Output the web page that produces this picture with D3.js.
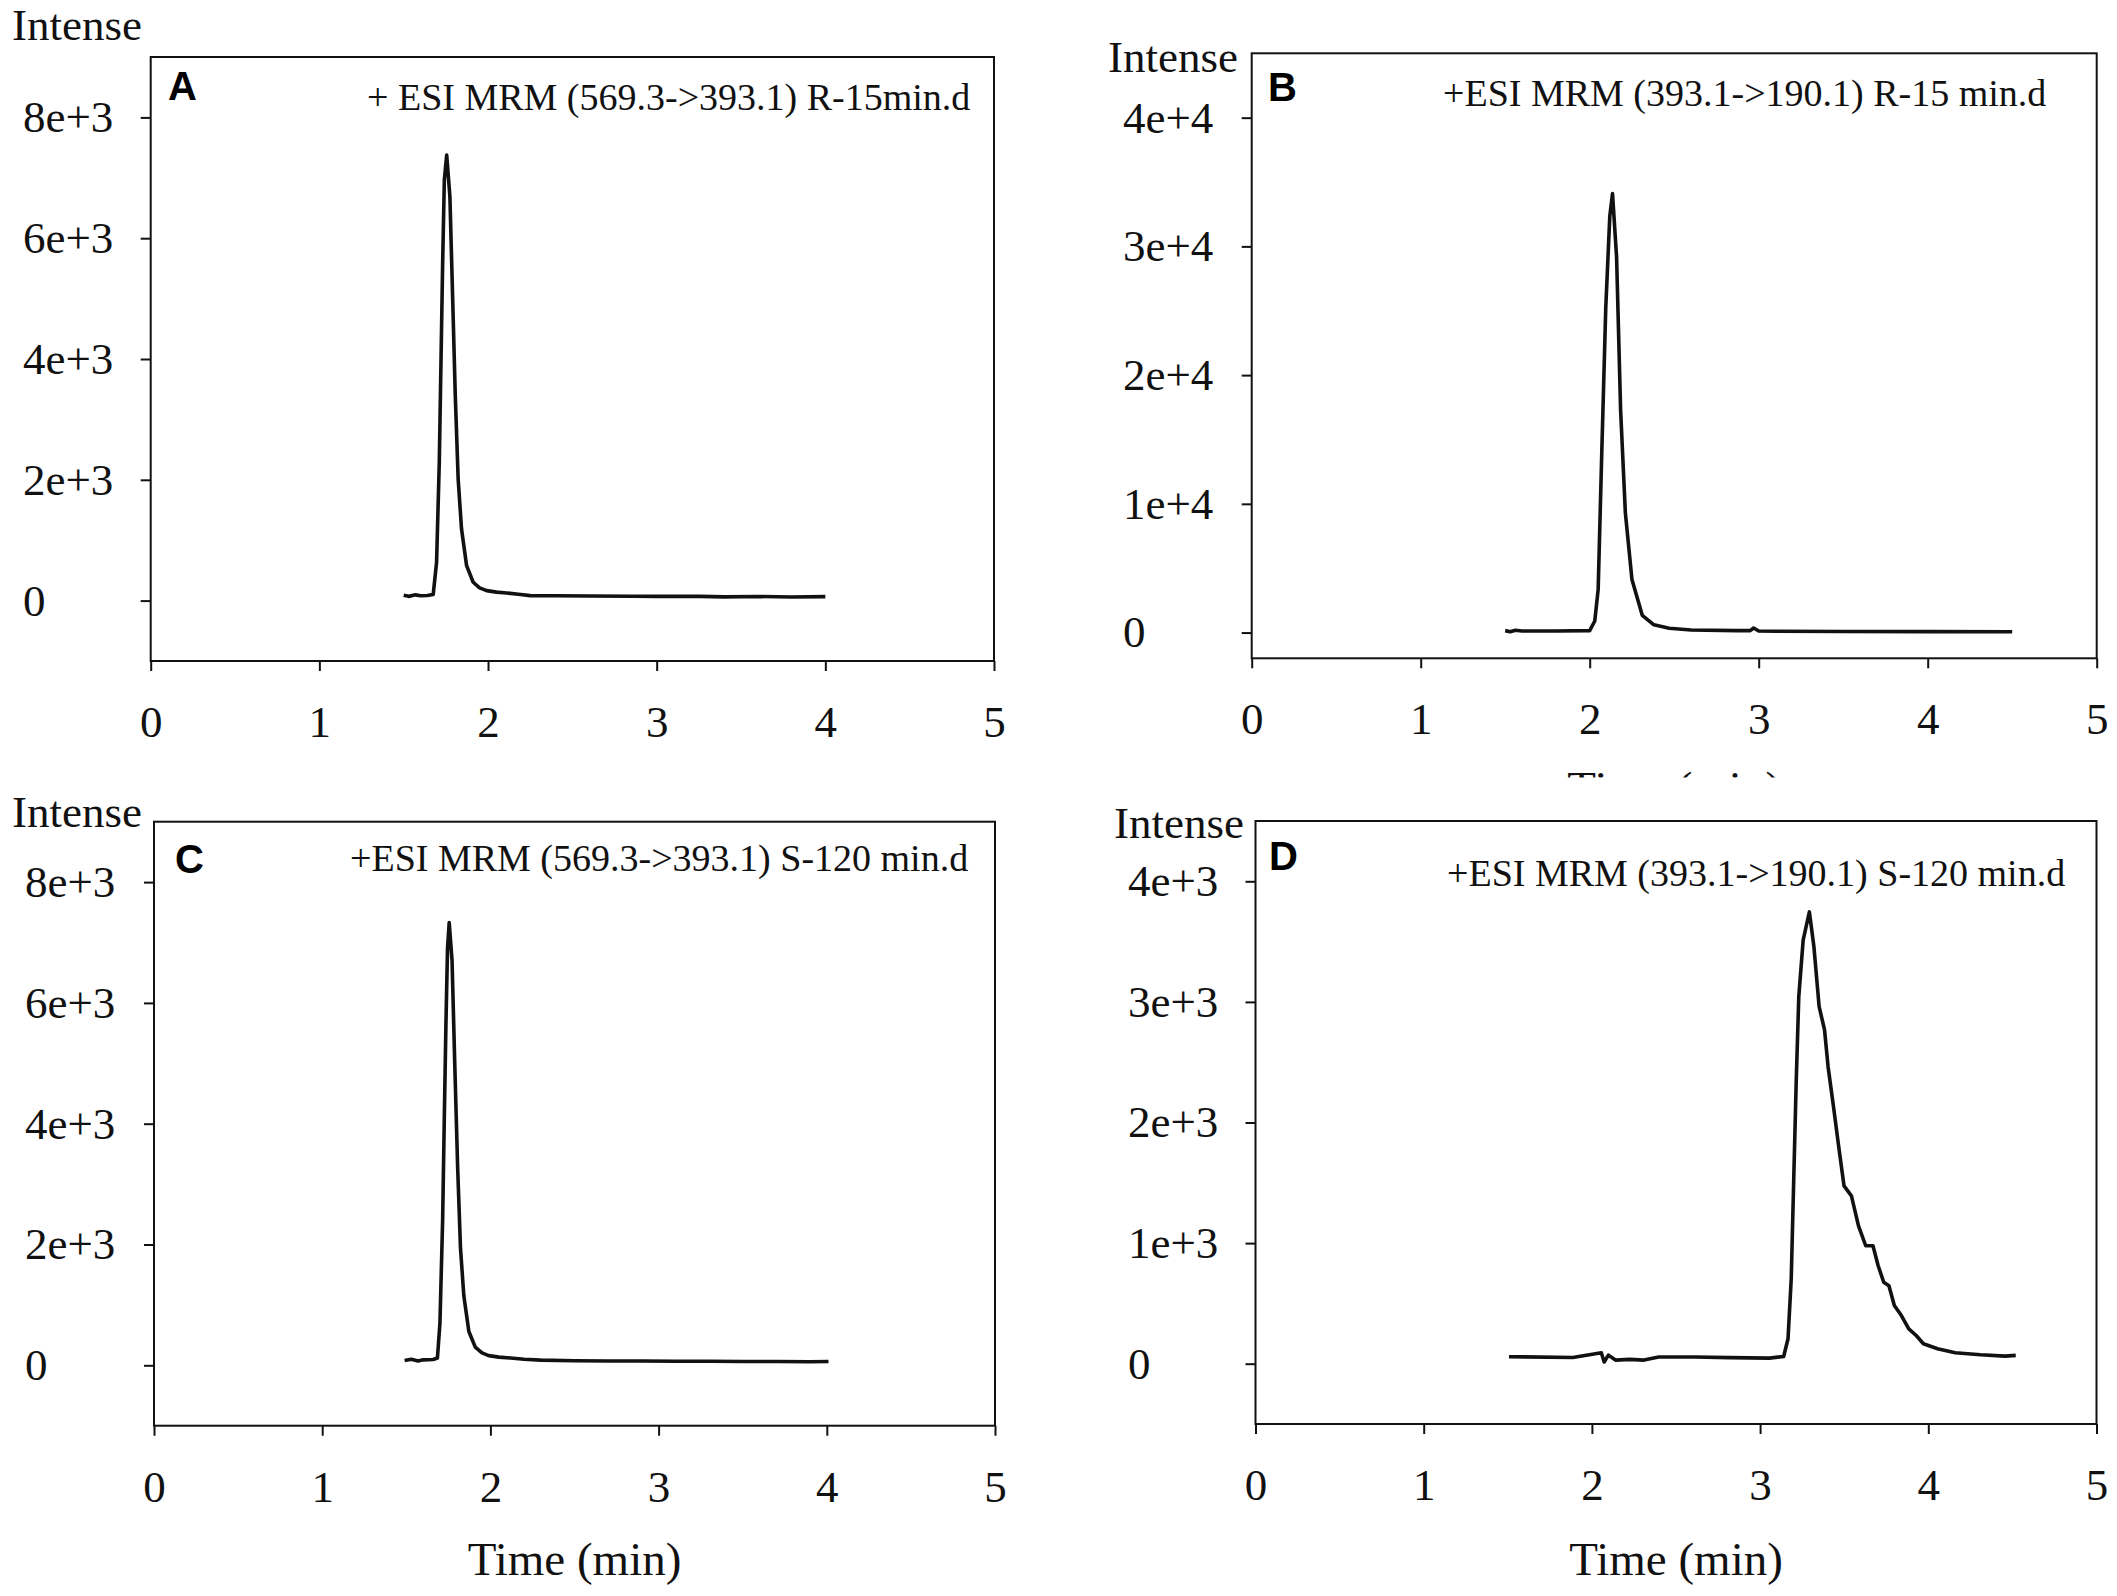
<!DOCTYPE html>
<html>
<head>
<meta charset="utf-8">
<script src="https://cdn.jsdelivr.net/npm/d3@7"></script>
<style>
  body { margin: 0; background: #fff; }
  svg { display: block; }
  .serif { font-family: "Liberation Serif", "Times New Roman", serif; fill: #111; }
</style>
</head>
<body>
<svg id="chart" width="2117" height="1596"></svg>
<script>
// ---- data ----
const xTicks = [0, 1, 2, 3, 4, 5];
const yTicksA = [0, 2000, 4000, 6000, 8000];
const yTicksB = [0, 10000, 20000, 30000, 40000];
const yTicksD = [0, 1000, 2000, 3000, 4000];

const titles = [
  "+ ESI MRM (569.3->393.1) R-15min.d",
  "+ESI MRM (393.1->190.1) R-15 min.d",
  "+ESI MRM (569.3->393.1) S-120 min.d",
  "+ESI MRM (393.1->190.1) S-120 min.d"
];

const timeA = [1.50, 1.53, 1.57, 1.60, 1.64, 1.675, 1.695, 1.711, 1.721, 1.731, 1.741, 1.755, 1.774, 1.790, 1.806, 1.823, 1.843, 1.873, 1.912, 1.95, 1.992, 2.05, 2.11, 2.18, 2.25, 2.4, 2.6, 2.86, 3.0, 3.256, 3.4, 3.6, 3.8, 4.0];
const intA  = [90, 70, 95, 80, 85, 100, 634, 2286, 3937, 5589, 6965, 7377, 6689, 5037, 3386, 2010, 1184, 578, 304, 210, 165, 140, 127, 105, 83, 80, 75, 73, 70, 70, 62, 68, 60, 65];

const timeB = [1.5, 1.53, 1.56, 1.6, 1.8, 2.0, 2.03, 2.05, 2.07, 2.095, 2.119, 2.135, 2.159, 2.183, 2.211, 2.25, 2.311, 2.38, 2.47, 2.6, 2.87, 2.95, 2.97, 3.0, 3.1, 3.5, 4.0, 4.5];
const intB  = [150, 60, 180, 120, 120, 150, 900, 3336, 13280, 25210, 32370, 34100, 29190, 17250, 9300, 4130, 1340, 600, 330, 200, 150, 150, 350, 120, 100, 80, 70, 60];

const timeC = [1.49, 1.53, 1.57, 1.60, 1.66, 1.685, 1.70, 1.716, 1.726, 1.736, 1.745, 1.755, 1.772, 1.788, 1.805, 1.822, 1.842, 1.872, 1.91, 1.95, 1.99, 2.05, 2.12, 2.2, 2.3, 2.5, 2.7, 2.9, 3.1, 3.3, 3.5, 3.7, 3.9, 4.01];
const intC  = [80, 100, 70, 90, 95, 120, 700, 2400, 4100, 5700, 6900, 7330, 6700, 5000, 3300, 1950, 1150, 560, 300, 205, 160, 135, 120, 100, 85, 75, 72, 70, 68, 66, 64, 62, 60, 62];

const timeD = [1.507, 1.887, 2.056, 2.073, 2.098, 2.14, 2.225, 2.31, 2.397, 2.61, 2.82, 3.055, 3.14, 3.166, 3.185, 3.2, 3.215, 3.23, 3.256, 3.293, 3.32, 3.351, 3.383, 3.404, 3.436, 3.467, 3.499, 3.543, 3.585, 3.628, 3.671, 3.702, 3.735, 3.766, 3.798, 3.84, 3.884, 3.928, 3.971, 4.055, 4.16, 4.31, 4.456, 4.52];
const intD  = [58, 52, 91, 14, 71, 30, 36, 30, 55, 55, 50, 46, 60, 207, 702, 1529, 2355, 3044, 3512, 3746, 3457, 2961, 2769, 2465, 2135, 1804, 1474, 1391, 1143, 978, 978, 812, 675, 647, 482, 399, 289, 234, 165, 124, 91, 74, 63, 69];

// ---- layout ----
const panels = [
  { letter: "A", time: timeA, value: intA, yDomain: [-1000, 9000], yTicks: yTicksA,
    box: { l: 150.7, r: 994, t: 57, b: 661 }, yLabX: 23, intense: [12, 40],
    letterPos: [168, 100], title: [367, 110] },
  { letter: "B", time: timeB, value: intB, yDomain: [-2000, 45000], yTicks: yTicksB,
    box: { l: 1251.7, r: 2096.7, t: 53.3, b: 658.3 }, yLabX: 1123, intense: [1108, 72],
    letterPos: [1268, 101], title: [1443, 106], hiddenLabel: true },
  { letter: "C", time: timeC, value: intC, yDomain: [-1000, 9000], yTicks: yTicksA,
    box: { l: 154, r: 995, t: 821.7, b: 1425.7 }, yLabX: 25, intense: [12, 827],
    letterPos: [175, 873], title: [350, 871], xLabel: true },
  { letter: "D", time: timeD, value: intD, yDomain: [-500, 4500], yTicks: yTicksD,
    box: { l: 1255.5, r: 2096.5, t: 821, b: 1424 }, yLabX: 1128, intense: [1114, 838],
    letterPos: [1269, 870], title: [1447, 886], xLabel: true }
];

const svg = d3.select("#chart");
const fmt = d => d === 0 ? "0" : d3.format(".0e")(d);

panels.forEach((p, i) => {
  const g = svg.append("g");
  const x = d3.scaleLinear().domain([0, 5]).range([p.box.l, p.box.r]);
  const y = d3.scaleLinear().domain(p.yDomain).range([p.box.b, p.box.t]);

  // x label of B, mostly covered by panel D
  if (p.hiddenLabel) {
    g.append("text").attr("class", "serif")
      .attr("x", (p.box.l + p.box.r) / 2).attr("y", 804)
      .attr("text-anchor", "middle").attr("font-size", 47)
      .text("Time (min)");
    g.append("rect").attr("x", 1400).attr("y", 777.5)
      .attr("width", 600).attr("height", 42).attr("fill", "#fff");
  }

  // frame
  g.append("rect")
    .attr("x", p.box.l).attr("y", p.box.t)
    .attr("width", p.box.r - p.box.l).attr("height", p.box.b - p.box.t)
    .attr("fill", "none").attr("stroke", "#111").attr("stroke-width", 2);

  // y axis
  const ya = g.append("g").attr("transform", `translate(${p.box.l},0)`)
    .call(d3.axisLeft(y).tickValues(p.yTicks).tickFormat(fmt).tickSize(10).tickSizeOuter(0));
  ya.select(".domain").remove();
  ya.selectAll("line").attr("stroke", "#111").attr("stroke-width", 2);
  ya.selectAll("text")
    .attr("class", "serif")
    .attr("text-anchor", "start")
    .attr("x", p.yLabX - p.box.l)
    .attr("font-size", 45)
    .attr("fill", "#111");

  // x axis
  const xa = g.append("g").attr("transform", `translate(0,${p.box.b})`)
    .call(d3.axisBottom(x).tickValues(xTicks).tickFormat(d3.format("d")).tickSize(10).tickSizeOuter(0).tickPadding(34));
  xa.select(".domain").remove();
  xa.selectAll("line").attr("stroke", "#111").attr("stroke-width", 2);
  xa.selectAll("text")
    .attr("class", "serif")
    .attr("font-size", 45)
    .attr("fill", "#111");

  // trace
  const pts = p.time.map((t, k) => [t, p.value[k]]);
  g.append("path")
    .datum(pts)
    .attr("fill", "none")
    .attr("stroke", "#111")
    .attr("stroke-width", 3.6)
    .attr("stroke-linejoin", "round")
    .attr("d", d3.line().x(d => x(d[0])).y(d => y(d[1])));

  // texts
  g.append("text").attr("class", "serif")
    .attr("x", p.intense[0]).attr("y", p.intense[1])
    .attr("font-size", 45).text("Intense");

  g.append("text")
    .attr("x", p.letterPos[0]).attr("y", p.letterPos[1])
    .attr("font-family", "Liberation Sans, Arial, sans-serif")
    .attr("font-weight", "bold").attr("font-size", 40).attr("fill", "#000")
    .text(p.letter);

  g.append("text").attr("class", "serif")
    .attr("x", p.title[0]).attr("y", p.title[1])
    .attr("font-size", 38).text(titles[i]);

  if (p.xLabel) {
    g.append("text").attr("class", "serif")
      .attr("x", (p.box.l + p.box.r) / 2).attr("y", 1575)
      .attr("text-anchor", "middle").attr("font-size", 47)
      .text("Time (min)");
  }
});
</script>
</body>
</html>
